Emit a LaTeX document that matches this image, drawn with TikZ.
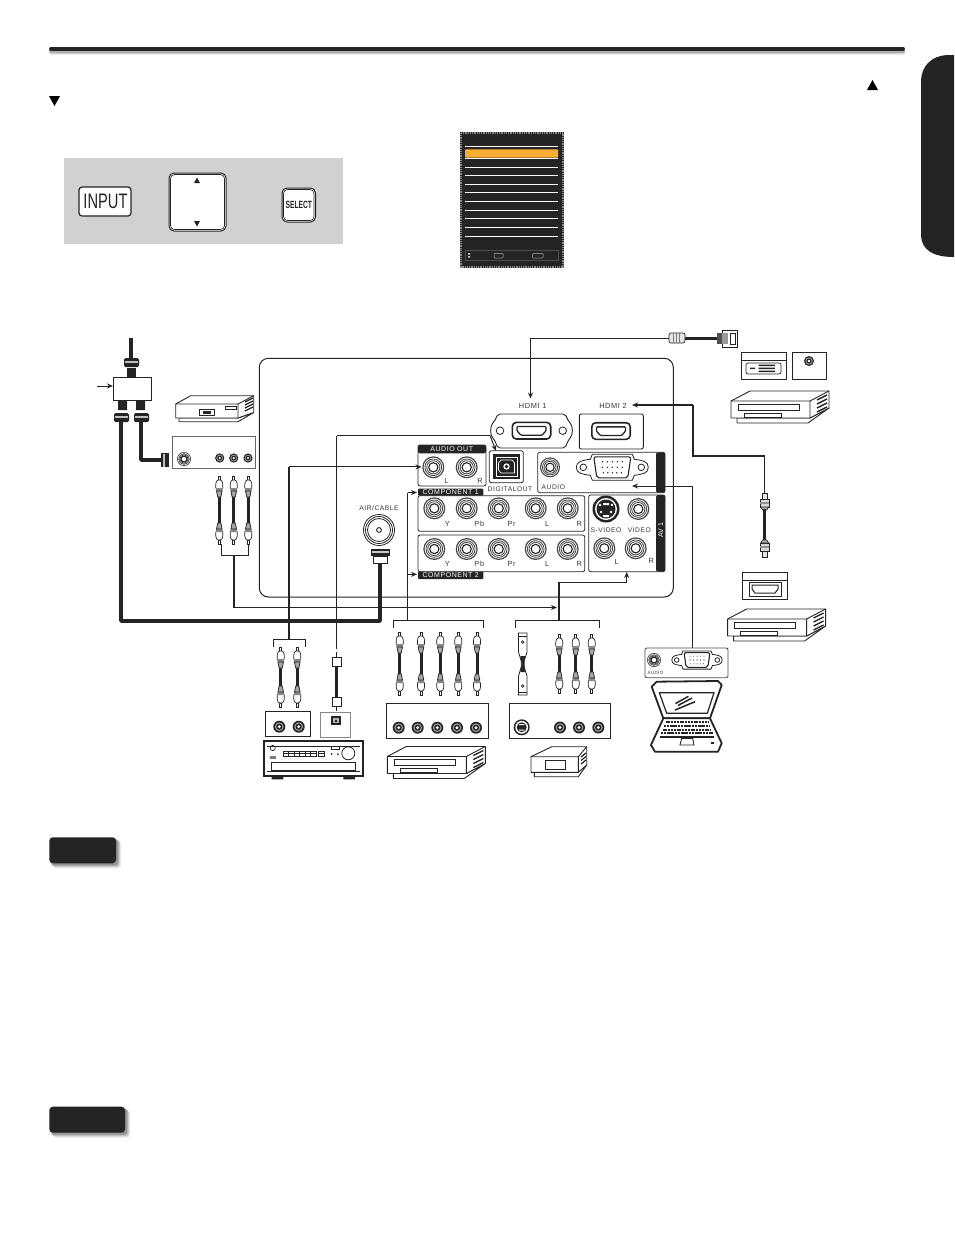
\documentclass[tikz,border=0pt]{standalone}
\usepackage{fontspec}
\setmainfont{Liberation Sans}
\newfontfamily\lab[LetterSpace=8]{Liberation Sans}
\usetikzlibrary{arrows.meta,calc}
\definecolor{ink}{HTML}{262324}
\definecolor{txt}{HTML}{3A3A3A}
\definecolor{panelgray}{HTML}{D1D1D1}
\definecolor{orangebar}{HTML}{F9AE33}
\tikzset{
  ln/.style={draw=ink,line width=.7pt},
  thin line/.style={draw=ink,line width=1pt},
  mid line/.style={draw=ink,line width=1.9pt},
  coax line/.style={draw=ink,line width=3.6pt,line join=round},
  tip/.style={-{Stealth[length=6pt,width=5pt]}},
  labl/.style={font=\lab\fontsize{6.7}{7}\selectfont,text=txt,inner sep=0pt},
  labb/.style={font=\lab\fontsize{7.4}{8}\selectfont,text=txt,inner sep=0pt},
  heading/.style={font=\lab\fontsize{7}{8}\selectfont,text=white,inner sep=0pt},
  hdr/.style={fill=ink,draw=none},
  plate/.style={draw=ink,line width=.8pt,rounded corners=2pt,fill=white},
  dev/.style={draw=ink,line width=.9pt,fill=white,line join=round},
  sq/.style={draw=ink,line width=.7pt,fill=white},
}
% concentric jack
\newcommand{\jackbig}[3]{%
  \begin{scope}[shift={(#1,#2)}]
  \fill[ink!85] (0,0) circle (#3);
  \fill[white] (0,0) circle ({#3*.88});
  \draw[ink!85,line width=.8pt] (0,0) circle ({#3*.76});
  \draw[ink!85,line width=.8pt] (0,0) circle ({#3*.6});
  \draw[ink,line width=1.1pt] (0,0) circle ({#3*.42});
  \end{scope}}
\newcommand{\jacksmall}[3]{%
  \fill[ink] (#1,#2) circle (#3);
  \fill[white!65!black] (#1,#2) circle ({#3*.72});
  \fill[ink] (#1,#2) circle ({#3*.52});
  \fill[white] (#1,#2) circle ({#3*.26});}
% rca plug, dir 1 = opening downward
\newcommand{\rcaplug}[3]{%
  \begin{scope}[shift={(#1,#2)},yscale=#3]
  \draw[sq,fill=white] (-1.1,0) rectangle (1.1,4);
  \draw[sq,rounded corners=1pt] (-2,4) -- (-3.5,7) -- (-3.5,13) -- (3.5,13) -- (3.5,7) -- (2,4) -- cycle;
  \fill[ink!55] (-3.3,12) -- (3.3,12) -- (3.1,15) -- (-3.1,15) -- cycle;
  \draw[sq,fill=white!65!black] (-2.8,15) -- (2.8,15) -- (1.6,21) -- (-1.6,21) -- cycle;
  \end{scope}}
\newcommand{\rcacable}[3]{%
  \draw[ink,line width=3pt] (#1,#2+20) -- (#1,#3-20);
  \rcaplug{#1}{#2}{1}\rcaplug{#1}{#3}{-1}}
% VCR
\newcommand{\vcr}[2]{%
  \begin{scope}[shift={(#1,#2)}]
  \draw[dev] (737,418) -- (737,423) -- (808,423) -- (829,408) -- (810,418) -- cycle;
  \draw[dev] (731,401) -- (750,391) -- (829,391) -- (829,408) -- (810,418) -- (731,418) -- cycle;
  \draw[ink,line width=.9pt] (731,401) -- (810,401) -- (829,391) (810,401) -- (810,418);
  \draw[ln,line width=.8pt] (738,404) rectangle (799,410);
  \draw[ln,line width=.8pt] (744,413) rectangle (781,417);
  \foreach \v in {400,404,408,412}{\draw[ink,line width=1.4pt] (817,\v) -- (827,\v-5);}
  \end{scope}}
% HDMI socket
\newcommand{\hdmi}[4]{%
  \begin{scope}[shift={(#1,#2)}]
  \draw[ink,line width=1.6pt,rounded corners=4pt,fill=white] (-#3,-#4) rectangle (#3,#4);
  \draw[ink,line width=1.3pt,rounded corners=1pt] ({-#3*.76},{-#4*.5}) -- ({#3*.76},{-#4*.5}) -- ({#3*.76},0) -- ({#3*.55},{#4*.55}) -- ({-#3*.55},{#4*.55}) -- ({-#3*.76},0) -- cycle;
  \end{scope}}
% VGA socket
\newcommand{\vgaport}[3]{%
  \begin{scope}[shift={(#1,#2)},scale=#3]
  \draw[ink,line width=.8pt,fill=white] (-36,0) .. controls (-36,-6) and (-30,-7) .. (-22,-8) -- (-20,-13) -- (20,-13) -- (22,-8) .. controls (30,-7) and (36,-6) .. (36,0) .. controls (36,6) and (30,7) .. (22,8) -- (20,13) -- (-20,13) -- (-22,8) .. controls (-30,7) and (-36,6) .. (-36,0) -- cycle;
  \draw[ink,line width=.8pt] (-29,0) circle (3.3) (29,0) circle (3.3);
  \draw[ink,line width=1.1pt,rounded corners=2pt] (-18.5,-10.5) -- (18.5,-10.5) -- (15.5,10.5) -- (-15.5,10.5) -- cycle;
  \foreach \a in {-10,-5,...,10}{\fill[ink] (\a,-5.5) circle (.8); \fill[ink] (\a,0) circle (.8); \fill[ink] (\a*.9,5.5) circle (.8);}
  \end{scope}}
% HDMI plug (vertical)
\newcommand{\hplug}[3]{%
  \begin{scope}[shift={(#1,#2)},yscale=#3]
  \draw[sq,fill=white!90!black] (-2.5,0) rectangle (2.5,6);
  \draw[sq,fill=white!85!black] (-4.5,6) rectangle (4.5,14);
  \fill[ink!50] (-4.5,9) rectangle (4.5,11);
  \draw[sq,fill=white!70!black] (-4,14) -- (4,14) -- (2,17) -- (-2,17) -- cycle;
  \end{scope}}
% coax nut, vertical axis
\newcommand{\coaxnut}[3]{%
  \begin{scope}[shift={(#1,#2)},xscale=#3]
  \fill[ink,rounded corners=1.5pt] (-7.5,0) rectangle (7.5,9);
  \fill[white!75!black] (-6.5,3.2) rectangle (6.5,5);
  \end{scope}}
\begin{document}
\begin{tikzpicture}[x=1pt,y=-1pt]
\useasboundingbox (0,0) rectangle (954,1235);
\fill[white] (0,0) rectangle (954,1235);
%% ---- top rule
\foreach \o/\c in {4/92,3/82,2/68}{\draw[black!\the\numexpr100-\c\relax,line width=4pt,line cap=round] (51,49+\o) -- (903,49+\o);}
\draw[ink,line width=4pt,line cap=round] (51,48.5) -- (903,48.5);
%% ---- side tab
\fill[ink] (954,55) -- (947,55) .. controls (932,56) and (922,65) .. (921,80) -- (921,236) .. controls (922,250) and (933,257) .. (954,257) -- cycle;
%% ---- triangles
\fill[black] (867,90) -- (878,90) -- (872.5,80) -- cycle;
\fill[black] (49,96) -- (60,96) -- (54.5,106) -- cycle;
%% ---- remote panel
\fill[panelgray] (64,158) rectangle (343,244);
\draw[ink,fill=white,line width=1.2pt,rounded corners=3pt] (79,187) rectangle (131,216);
\node[inner sep=0pt,font=\fontsize{21}{22}\selectfont,text=ink,xscale=.7] (inputkey) at (105.5,201.5) {INPUT};
\draw[ink,fill=white,line width=1pt,rounded corners=5pt] (169,173) rectangle (226,231);
\draw[ink,line width=.6pt,rounded corners=4pt] (170.5,174.5) rectangle (224.5,229.5);
\fill[ink] (194,183) -- (200,183) -- (197,177.5) -- cycle;
\fill[ink] (194,221) -- (200,221) -- (197,226.5) -- cycle;
\draw[ink,fill=white,line width=1pt,rounded corners=5pt] (282,188) rectangle (315.5,222);
\draw[ink,line width=.6pt,rounded corners=4pt] (283.5,189.5) rectangle (314,220.5);
\node[inner sep=0pt,font=\bfseries\fontsize{10.5}{11}\selectfont,text=ink,xscale=.64] (selectkey) at (298.8,205) {SELECT};
%% ---- on-screen menu
\fill[ink] (459.5,132) rectangle (564,268);
\draw[white!55!black,line width=2pt,dash pattern=on 1pt off .8pt] (460.5,133) rectangle (563,267);
\foreach \v in {146.3,158.3,167,175.3,184.3,192.3,201.3,210.3,218.3,227.3,236.3}{\draw[white,line width=.8pt] (465,\v) -- (558,\v);}
\fill[orangebar,rounded corners=.8pt] (465,149.3) rectangle (558,157.7);
\draw[white!30!black,line width=.5pt] (465,250) rectangle (558,260.7);
\draw[white!70!black,line width=.5pt,rounded corners=.8pt] (494,253.3) rectangle (503,258);
\draw[white!70!black,line width=.5pt,rounded corners=.8pt] (532.5,253.3) rectangle (543,258);
\fill[white!80!black] (468,253) rectangle (470,254.5) (468,256) rectangle (470,257.5);
%% ---- TV back panel
\draw[ink,line width=1pt,rounded corners=9pt] (259.3,358.3) rectangle (673.3,597);
%% ---- named end points
\coordinate (spA) at (121,422);
\coordinate (spB) at (141,422);
\coordinate (coaxLow) at (121,621);
\coordinate (airLow) at (380,621);
\coordinate (airB) at (380,563);
\coordinate (stbCorner) at (141,460);
\coordinate (stbIn) at (161,460);
\coordinate (aIn) at (233.7,555);
\coordinate (aCorner) at (233.7,607.5);
\coordinate (aTip) at (557,607.5);
\coordinate (avTop) at (558.7,620);
\coordinate (avMid) at (558.7,582);
\coordinate (avRight) at (626.7,582);
\coordinate (avTip) at (626.7,572);
\coordinate (audTop) at (289,639.5);
\coordinate (audCorner) at (289,466.9);
\coordinate (audTip) at (421.5,466.9);
\coordinate (optBot) at (336.7,649);
\coordinate (optCorner) at (336.7,435.5);
\coordinate (optBend) at (490,435.5);
\coordinate (optTip) at (496,451);
\coordinate (hdmiA) at (669,338.5);
\coordinate (hdmiACorner) at (530.5,338.5);
\coordinate (hdmiATip) at (530.5,398.5);
\coordinate (hdmiBTip) at (632,405);
\coordinate (hdmiBc1) at (692.7,405);
\coordinate (hdmiBc2) at (692.7,455.7);
\coordinate (hdmiBc3) at (764.7,455.7);
\coordinate (hdmiBEnd) at (764.7,493);
\coordinate (vgaBot) at (692.7,648);
\coordinate (vgaCorner) at (692.7,486);
\coordinate (vgaTip) at (632,486);
\coordinate (cmpTop) at (407.7,620);
\coordinate (cmpOne) at (407.7,492.5);
\coordinate (cmpOneTip) at (417,492.5);
\coordinate (cmpTwo) at (407.7,574.3);
\coordinate (cmpTwoTip) at (417,574.3);
\coordinate (splitIn) at (97,386);
\coordinate (splitInTip) at (113,386);
%% ---- splitter
\draw[ink,line width=3.6pt] (130.8,338) -- (130.8,359);
\coaxnut{131.5}{358}{1}
\fill[ink] (127,368) rectangle (136,377);
\draw[ink,line width=.9pt,fill=white] (113,377) rectangle (151,400.7);
\fill[ink] (118,401) rectangle (127,410) (136,401) rectangle (145,410);
\coaxnut{121.5}{413}{1}\coaxnut{141.5}{413}{1}
%% ---- set top box
\begin{scope}
\draw[dev] (179,418) -- (179,421.7) -- (238,421.7) -- (253.7,412.5) -- (238,418) -- cycle;
\draw[dev] (175.7,404) -- (190.7,395.7) -- (253.7,395.7) -- (253.7,412.5) -- (238,418) -- (175.7,418) -- cycle;
\draw[ink,line width=.9pt] (175.7,404) -- (238,404) -- (253.7,395.7) (238,404) -- (238,418);
\draw[ln] (199.7,409.3) rectangle (214.7,415.3);
\draw[ln] (225.7,406) rectangle (236.7,409.3);
\fill[ink] (203,411) rectangle (211,413.5);
\foreach \v in {402,405,408,411}{\draw[ink,line width=1.2pt] (245,\v) -- (253,\v-4);}
\end{scope}
\draw[ln,line width=.8pt,draw=ink!70] (172,436) rectangle (255,468);
\jackbig{184}{459}{7}
\jacksmall{219.7}{458}{4.6}\jacksmall{233.7}{458}{4.6}\jacksmall{248}{458}{4.6}
\fill[ink] (161,453) rectangle (169,467);
\fill[white!75!black] (163,453.5) rectangle (165,466.5);
\rcacable{219.3}{476}{544}\rcacable{233.7}{476}{544}\rcacable{248.3}{476}{544}
%% ---- HDMI plates
\draw[ink,line width=.9pt,fill=white,rounded corners=2pt] (498,414) -- (565,414) -- (569,422) .. controls (573,426) and (573,435) .. (569,439) -- (565,448) -- (498,448) -- (494,439) .. controls (490,435) and (490,426) .. (494,422) -- cycle;
\draw[ink,line width=.8pt] (500,430.7) circle (3.8) (562.7,430.7) circle (3.8);
\hdmi{531.5}{430.7}{19.2}{8.3}
\draw[plate,line width=.9pt] (579.3,414) rectangle (643.3,449);
\hdmi{611}{431}{19.2}{8.3}
\node[labb] (hdmiOne) at (532.7,405.7) {HDMI 1};
\node[labb] (hdmiTwo) at (613,405.7) {HDMI 2};
%% ---- audio out
\draw[plate] (418,445) rectangle (486,486);
\fill[hdr,rounded corners=1.5pt] (418,445) rectangle (486,453.3);
\node[heading] (audioOut) at (451.7,449.3) {AUDIO OUT};
\jackbig{433.3}{467.3}{11}\jackbig{466.7}{467.3}{11}
\node[labb] (lblL) at (446.7,481) {L};
\node[labb] (lblR) at (480,481) {R};
%% ---- digital out
\draw[plate] (489.3,450.7) rectangle (523.3,482.7);
\fill[ink] (493.3,454.3) rectangle (520,479);
\draw[white,line width=.7pt] (496,457) rectangle (517.5,476.5);
\draw[white,line width=.7pt] (501,460) -- (512,460) -- (514.5,463) -- (514.5,473) -- (501,473) -- (498.5,470) -- (498.5,463) -- cycle;
\fill[white] (506.5,466.5) circle (3.2);
\fill[ink] (506.5,466.5) circle (1.8);
\node[labl] (digOut) at (510,489.3) {DIGITALOUT};
%% ---- audio / vga
\draw[plate] (537.7,452.3) rectangle (665,492.7);
\fill[hdr,rounded corners=1.5pt] (656,452.3) rectangle (665,492.7);
\jackbig{550}{467.3}{10}
\node[labl] (audioLbl) at (553.3,486.7) {AUDIO};
\vgaport{612.3}{467.3}{1}
%% ---- components
\draw[plate] (418,495.7) rectangle (584.7,531.3);
\fill[hdr,rounded corners=1pt] (418,488.7) rectangle (483.3,495.7);
\node[heading] (compOne) at (450.7,492.2) {COMPONENT 1};
\draw[plate] (418,535) rectangle (584.7,571.7);
\fill[hdr,rounded corners=1pt] (418,571.7) rectangle (483.3,579);
\node[heading] (compTwo) at (450.7,575.3) {COMPONENT 2};
\foreach \u in {434.3,466.7,498.7,535.7,567.7}{\jackbig{\u}{508.3}{11}\jackbig{\u}{549}{11}}
\foreach \v in {524.3,564.3}{
  \node[labb] at (447.3,\v) {Y};
  \node[labb] at (479.3,\v) {Pb};
  \node[labb] at (511.7,\v) {Pr};
  \node[labb] at (547.3,\v) {L};
  \node[labb] at (579.3,\v) {R};
}
%% ---- AV1
\draw[plate] (588.7,495) rectangle (665,571.7);
\fill[hdr,rounded corners=1.5pt] (656,495) rectangle (665,571.7);
\node[heading,rotate=90] (avOne) at (660.7,530) {AV 1};
\fill[ink] (606,509) circle (13.5);
\fill[white] (606,509) circle (11);
\fill[ink] (606,509) circle (9.5);
\fill[white] (600,505) circle (1.3) (612,505) circle (1.3) (601,512) circle (1.3) (611,512) circle (1.3);
\fill[white] (603,503) rectangle (609,505) (603,515) rectangle (609,517);
\jackbig{638.3}{509}{11}
\jackbig{604.3}{548.3}{11}
\jackbig{635.7}{548.3}{11}
\node[labl] (svid) at (606,530) {S-VIDEO};
\node[labl] (vid) at (639.3,530) {VIDEO};
\node[labb] (avL) at (616.7,562.3) {L};
\node[labb] (avR) at (651.3,561) {R};
%% ---- antenna
\node[labl] (airLbl) at (379,508.3) {AIR/CABLE};
\draw[ink,line width=.8pt] (379,530) circle (15.5) (379,530) circle (13.5) (379,530) circle (11.5);
\draw[ink,line width=.9pt] (379,530) circle (2.4);
\fill[ink] (371,549) rectangle (389.5,556);
\fill[white!80!black] (372,551) rectangle (388.5,552.5);
\draw[sq] (373,556) rectangle (387.5,563);
%% ---- connectors
\draw[coax line] (spA) -- (coaxLow) -- (airLow) -- (airB);
\draw[coax line] (spB) -- (stbCorner) -- (stbIn);
\draw[mid line,tip] (aIn) -- (aCorner) -- (aTip);
\draw[thin line] (221,544) -- (221,555) -- (248.7,555) -- (248.7,544);
\draw[mid line] (avTop) -- (avMid);
\draw[thin line,tip] (avMid) -- (avRight) -- (avTip);
\draw[thin line] (515.7,628) -- (515.7,620.5) -- (599,620.5) -- (599,628);
\draw[mid line] (audTop) -- (audCorner);
\draw[thin line,tip] (audCorner) -- (audTip);
\draw[thin line] (273.5,647) -- (273.5,639.5) -- (305.5,639.5) -- (305.5,647);
\draw[thin line] (optBot) -- (optCorner);
\draw[mid line] (optCorner) -- (optBend);
\draw[thin line,tip] (optBend) -- (optTip);
\draw[mid line,tip] (hdmiA) -- (hdmiACorner) -- (hdmiATip);
\draw[mid line,tip] (hdmiBc1) -- (hdmiBTip);
\draw[mid line] (hdmiBc1) -- (hdmiBc2) -- (hdmiBc3);
\draw[thin line] (hdmiBc3) -- (hdmiBEnd);
\draw[thin line,tip] (vgaBot) -- (vgaCorner) -- (vgaTip);
\draw[thin line] (cmpTop) -- (cmpOne);
\draw[thin line,tip] (cmpOne) -- (cmpOneTip);
\draw[thin line,tip] (cmpTwo) -- (cmpTwoTip);
\draw[thin line] (393.3,628) -- (393.3,620.5) -- (483.3,620.5) -- (483.3,628);
\draw[thin line,tip] (splitIn) -- (splitInTip);
%% ---- audio system
\rcacable{280.7}{647}{707}\rcacable{297.3}{647}{707}
\draw[ln,line width=.8pt] (265.3,711.3) rectangle (310.7,736.7);
\jacksmall{279.3}{726.7}{6}\jacksmall{298.7}{726.7}{6}
%% ---- optical cable
\fill[ink] (336.2,652) rectangle (337.2,657.3);
\draw[ink,line width=3pt] (336.7,666) -- (336.7,698);
\draw[sq,line width=1pt] (332.3,657.3) rectangle (341,666.7);
\draw[sq,line width=1pt] (332.3,697.3) rectangle (341,706.7);
\draw[ink,line width=1pt] (336.7,706.7) -- (336.7,711);
\draw[ink!55,line width=.9pt] (320.7,712) rectangle (350.7,737.3);
\fill[ink] (331,716) rectangle (340.7,725);
\fill[white!70!black] (333,718) rectangle (338.7,723);
\fill[ink] (335,719.5) rectangle (336.7,721.5);
%% ---- receiver
\fill[ink] (271.7,776) rectangle (283.3,779.3) (343.3,776) rectangle (355,779.3);
\draw[ink,line width=1.8pt,fill=white] (263.8,741.2) rectangle (363,776.2);
\draw[ln] (267,746) -- (360,746) (267,771.5) -- (360,771.5) (271.7,762.3) rectangle (355,770.7);
\draw[ln] (283.3,751) rectangle (316.7,756.7);
\draw[ln] (283.3,753.5) -- (316.7,753.5);
\foreach \a in {288.5,294,299.5,305,310.5}{\draw[ln] (\a,751) -- (\a,756.7);}
\draw[ln] (318,751) rectangle (324.5,756.7);\draw[ln] (318,753.8) -- (324.5,753.8);
\draw[ln] (331,746.5) rectangle (339,749.5);
\fill[ink] (331.7,754) circle (1) (338,754) circle (1);
\draw[ink,line width=.8pt] (348.3,753.3) circle (6.5);
\draw[ln] (272.7,748) circle (2.6);
\fill[ink!60] (270,756) rectangle (275.5,758.5);
%% ---- component sources
\foreach \u in {399.7,421,440.3,458.3,477}{\rcacable{\u}{632}{695}}
\draw[ln,line width=.8pt] (386,703.3) rectangle (488.7,738.7);
\foreach \u in {398.7,417.7,437.3,457,476}{\jacksmall{\u}{727.7}{6}}
\vcr{-343.7}{355.5}
%% ---- AV sources
\draw[sq,line width=.8pt,fill=white] (518.5,633) -- (527,633) -- (527,652) -- (524.2,661) -- (524.2,667) -- (527,676) -- (527,695) -- (518.5,695) -- (518.5,676) -- (521.2,667) -- (521.2,661) -- (518.5,652) -- cycle;
\fill[ink] (520.3,656) -- (525.2,656) -- (523.8,664) -- (525.2,672) -- (520.3,672) -- (521.7,664) -- cycle;
\draw[ink,line width=.6pt] (518.5,636) -- (527,636) (518.5,692) -- (527,692);
\draw[ink,line width=.7pt] (522.7,642) circle (1.3) (522.7,686) circle (1.3);
\rcacable{559.3}{634}{693}\rcacable{575.7}{634}{693}\rcacable{591.7}{634}{693}
\draw[ln,line width=.8pt] (509.3,703.3) rectangle (610.7,738.7);
\fill[ink] (521.7,727.3) circle (8);
\fill[white] (521.7,727.3) circle (6.4);
\fill[ink] (521.7,727.3) circle (5);
\fill[white] (519,724) rectangle (524.4,725.2) (519,729.5) rectangle (524.4,730.7);
\jacksmall{560}{727.5}{6}\jacksmall{579}{727.5}{6}\jacksmall{598.3}{727.5}{6}
%% small device
\draw[dev] (534.3,771.7) -- (534.3,776.7) -- (578.3,776.7) -- (586.7,765) -- (578.3,771.7) -- cycle;
\draw[dev] (531,756.7) -- (551.7,746.7) -- (586.7,746.7) -- (586.7,765) -- (578.3,772.3) -- (531,772.3) -- cycle;
\draw[ink,line width=.9pt] (531,756.7) -- (578.3,756.7) -- (586.7,746.7) (578.3,756.7) -- (578.3,772.3);
\draw[ln,line width=.8pt] (545,760) rectangle (565,769.3);
\foreach \v in {757,760.5,764}{\draw[ink,line width=1.2pt] (581,\v) -- (586,\v-4);}
%% ---- top right devices
\draw[ln,fill=white!90!black,rounded corners=2pt] (669,333) rectangle (685,343);
\foreach \a in {673,676,679}{\draw[ink!60,line width=.7pt] (\a,333) -- (\a,343);}
\draw[ink,line width=3pt] (685,338) -- (717,338);
\fill[ink!80] (717,333) rectangle (722,344);
\draw[sq,line width=1pt] (722,330) rectangle (737.5,347);
\draw[ink,line width=1pt] (730,333) rectangle (735,344);
\fill[white!60!black] (722,333) rectangle (728,344);
\draw[ln,line width=.8pt] (741,352) rectangle (786,379);
\draw[ln] (741,360) -- (786,360);
\draw[ln,rounded corners=2pt] (746,363) rectangle (781,374);
\fill[ink] (758.5,364.5) rectangle (775,366.2) (758.5,367.5) rectangle (775,369.2) (758.5,370.5) rectangle (775,372.2) (750,367.5) rectangle (755,369.2);
\draw[ln,line width=.8pt] (792,352) rectangle (826,379);
\jacksmall{809}{361}{5}
\vcr{0}{0}
%% ---- lower right devices
\hplug{764.7}{493}{1}
\draw[ink,line width=3.5pt] (764.7,509) -- (764.7,542);
\hplug{764.7}{557}{-1}
\draw[ln,line width=.8pt] (742,572) rectangle (787,599);
\draw[ln] (742,580) -- (787,580);
\draw[ln,line width=.9pt] (749,582) rectangle (781,596);
\draw[ink,line width=1pt] (752,585) -- (778,585) -- (778,589) -- (775,593) -- (755,593) -- (752,589) -- cycle;
\vcr{-3.4}{218}
%% ---- laptop connector
\draw[ink!80,line width=.9pt,rounded corners=2pt,fill=white] (645,648) rectangle (728,677.7);
\jackbig{654}{660}{7}
\vgaport{697}{660}{.7}
\node[inner sep=0pt,font=\lab\fontsize{4.5}{5}\selectfont,text=txt] (lapAudio) at (655.5,673.3) {AUDIO};
%% ---- laptop
\draw[ink,line width=1.8pt,line join=round,fill=white] (651.7,686.7) -- (663.3,718.3) -- (710,718.3) -- (721.7,685) -- (718,681) -- (656.7,681.7) -- cycle;
\draw[ink,line width=1.2pt,line join=round] (659.3,692.7) -- (714,692.7) -- (707.3,713.3) -- (666.7,713.3) -- cycle;
\draw[ink,line width=1.5pt] (675.5,703.5) -- (688.5,696.3) (678,705.5) -- (692,698) (675,710) -- (695,701.7);
\draw[ink,line width=1.8pt,line join=round,fill=white] (663.3,718.3) -- (710,718.3) -- (721.7,743.3) -- (718,751.7) -- (655,751.7) -- (651,745) -- cycle;
\foreach \v/\l/\r in {722.3/665.5/708,726/664/709.5,729.7/662.5/711,733.3/661/712.5}{\draw[ink,line width=2.3pt,dash pattern=on 2.1pt off .7pt] (\l,\v) -- (\r,\v);}
\draw[ink,line width=1.8pt] (660,736.8) -- (714,736.8);
\draw[ink,line width=.9pt] (680,745) -- (681.7,738.3) -- (692.7,738.3) -- (694,745) -- cycle;
\fill[ink] (710.7,741.7) rectangle (714,743.7);
%% ---- note tags
\foreach \b/\o in {5/08,4/10,3/14,2/18}{
  \fill[black,opacity=.\o,rounded corners=3pt] (49.3+\b-1,837.3+\b-1) rectangle (116+\b,863.3+\b);
  \fill[black,opacity=.\o,rounded corners=3pt] (49.3+\b-1,1106.7+\b-1) rectangle (125+\b,1132.7+\b);
}
\fill[ink,rounded corners=3.5pt] (49.3,837.3) rectangle (116,863.3);
\fill[ink,rounded corners=3.5pt] (49.3,1106.7) rectangle (125,1132.7);
\end{tikzpicture}
\end{document}
